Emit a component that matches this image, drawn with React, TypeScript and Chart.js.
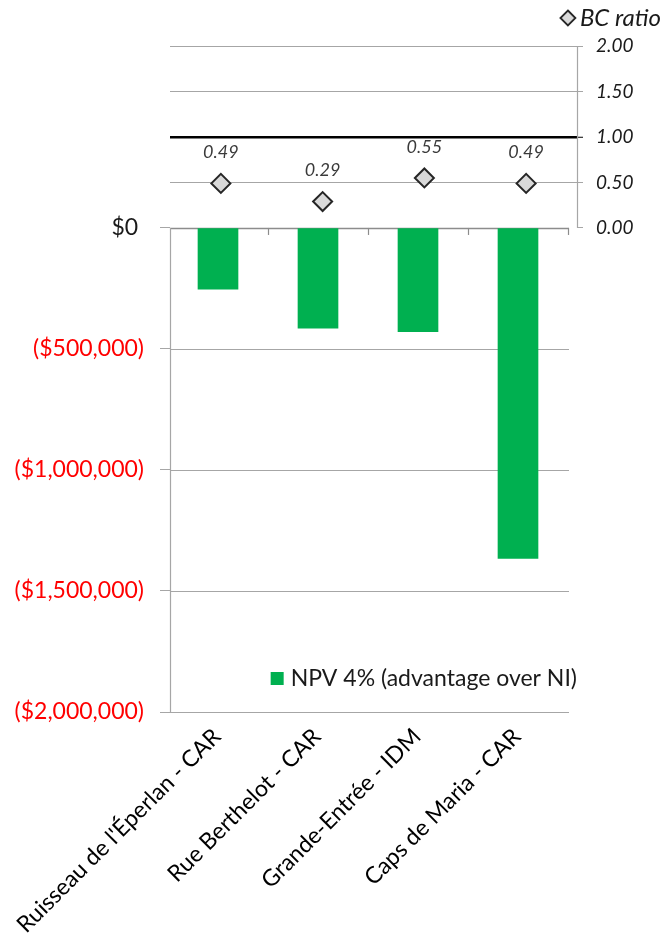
import React, { useEffect, useRef } from "react";
import { Chart, registerables } from "chart.js";

Chart.register(...registerables);

const categories = [
  "Ruisseau de l'Éperlan - CAR",
  "Rue Berthelot - CAR",
  "Grande-Entrée - IDM",
  "Caps de Maria - CAR",
];
const npv4 = [-253000, -414000, -429000, -1365000];
const bcRatio = [0.49, 0.29, 0.55, 0.49];
const npvTicks = [-2000000, -1500000, -1000000, -500000, 0];
const bcTicks = [0, 0.5, 1, 1.5, 2];

const NPV_LABEL = "NPV 4% (advantage over NI)";
const BC_LABEL = "BC ratio";

const W = 663;
const H = 945;
const FONT = "Lato, 'Open Sans', sans-serif";
const GREEN = "#00B050";
const GRID = "#A6A6A6";
const AXIS = "#8C8C8C";

const BC_MIN = -5.32;
const BC_MAX = 2;
const NPV_MIN = -2000000;
const NPV_MAX = (-NPV_MIN * BC_MAX) / -BC_MIN;

function fmtMoney(v: number): string {
  if (v === 0) return "$0 ";
  const s = Math.abs(v).toLocaleString("en-US");
  return v < 0 ? `($${s})` : `$${s} `;
}

const framePlugin = {
  id: "frame",
  beforeDatasetsDraw(chart: any) {
    const { ctx, chartArea } = chart;
    const x = chart.scales.x;
    const y = chart.scales.y;
    const y2 = chart.scales.y2;
    const xEnd = x.getPixelForValue(categories.length - 0.5) + 1;
    ctx.save();
    npvTicks.forEach((v) => {
      const py = Math.round(y.getPixelForValue(v)) + 0.5;
      ctx.beginPath();
      ctx.strokeStyle = v === 0 ? AXIS : GRID;
      ctx.lineWidth = v === 0 ? 1.5 : 1;
      ctx.moveTo(chartArea.left, py);
      ctx.lineTo(xEnd, py);
      ctx.stroke();
    });
    ctx.beginPath();
    ctx.strokeStyle = GRID;
    ctx.lineWidth = 1.2;
    const lx = Math.round(chartArea.left) + 0.5;
    ctx.moveTo(lx, y.getPixelForValue(0));
    ctx.lineTo(lx, y.getPixelForValue(NPV_MIN));
    ctx.stroke();
    ctx.beginPath();
    const rx = Math.round(chartArea.right) + 0.5;
    ctx.moveTo(rx, y2.getPixelForValue(BC_MAX));
    ctx.lineTo(rx, y2.getPixelForValue(0));
    ctx.stroke();
    const zy = y.getPixelForValue(0);
    ctx.strokeStyle = AXIS;
    ctx.lineWidth = 1.2;
    for (let i = 1; i <= categories.length; i++) {
      const px = Math.round(x.getPixelForValue(i - 0.5)) + 0.5;
      ctx.beginPath();
      ctx.moveTo(px, zy);
      ctx.lineTo(px, zy + 7);
      ctx.stroke();
    }
    ctx.restore();
  },
  afterDatasetsDraw(chart: any) {
    const { ctx, chartArea } = chart;
    const meta = chart.getDatasetMeta(1);
    ctx.save();
    ctx.font = `italic 18px ${FONT}`;
    ctx.fillStyle = "#3A3A3A";
    ctx.textAlign = "center";
    ctx.textBaseline = "middle";
    meta.data.forEach((pt: any, i: number) => {
      ctx.fillText(bcRatio[i].toFixed(2), pt.x, pt.y - 31);
    });

    ctx.font = `23px ${FONT}`;
    ctx.fillStyle = "#1A1A1A";
    ctx.textAlign = "left";
    const tw = ctx.measureText(NPV_LABEL).width;
    const tx = chartArea.right - tw;
    const ty = chartArea.bottom - 33;
    ctx.fillText(NPV_LABEL, tx, ty);
    ctx.fillStyle = GREEN;
    ctx.fillRect(tx - 20, ty - 7, 13, 13);

    ctx.font = `italic 24px ${FONT}`;
    ctx.fillStyle = "#1A1A1A";
    const bw = ctx.measureText(BC_LABEL).width;
    const bx = chart.width - 2 - bw;
    const by = 18;
    ctx.fillText(BC_LABEL, bx, by);
    const dx = bx - 12;
    const r = 7.5;
    ctx.beginPath();
    ctx.moveTo(dx, by - r);
    ctx.lineTo(dx + r, by);
    ctx.lineTo(dx, by + r);
    ctx.lineTo(dx - r, by);
    ctx.closePath();
    ctx.fillStyle = "#D9D9D9";
    ctx.fill();
    ctx.strokeStyle = "#262626";
    ctx.lineWidth = 1.8;
    ctx.stroke();
    ctx.restore();
  },
};

export default function App() {
  const ref = useRef<HTMLCanvasElement | null>(null);

  useEffect(() => {
    if (!ref.current) return;
    const chart = new Chart(ref.current, {
      type: "bar",
      data: {
        labels: categories,
        datasets: [
          {
            type: "bar",
            label: NPV_LABEL,
            data: npv4.map((v, i) => ({ x: i, y: v })),
            backgroundColor: GREEN,
            borderWidth: 0,
            barThickness: 40,
            grouped: false,
            xAxisID: "x",
            yAxisID: "y",
            order: 2,
          } as any,
          {
            type: "line",
            label: BC_LABEL,
            data: bcRatio,
            showLine: false,
            pointStyle: "rectRot",
            pointRadius: 9.5,
            pointBackgroundColor: "#D9D9D9",
            pointBorderColor: "#262626",
            pointBorderWidth: 2,
            xAxisID: "x2",
            yAxisID: "y2",
            order: 1,
          } as any,
        ],
      },
      options: {
        animation: false,
        responsive: false,
        maintainAspectRatio: false,
        layout: { padding: { top: 46, left: 0, right: 0, bottom: 0 } },
        plugins: {
          legend: { display: false },
          tooltip: { enabled: false },
        },
        scales: {
          x: {
            type: "linear",
            position: "bottom",
            offset: false,
            min: -0.48,
            max: -0.48 + 4.07,
            afterBuildTicks: (s: any) => {
              s.ticks = categories.map((_, i) => ({ value: i }));
            },
            afterFit: (s: any) => {
              s.height = H - 712;
              s.paddingLeft = 0;
              s.paddingRight = 0;
            },
            grid: { display: false, drawTicks: false, offset: false },
            border: { display: false },
            ticks: {
              autoSkip: false,
              maxRotation: 45,
              minRotation: 45,
              padding: 11,
              labelOffset: -1,
              color: "#000000",
              font: { family: FONT, size: 23 },
              callback: (v: any) => categories[v as number] ?? "",
            },
          },
          x2: {
            type: "category",
            labels: categories,
            offset: true,
            display: false,
          },
          y: {
            type: "linear",
            position: "left",
            min: NPV_MIN,
            max: NPV_MAX,
            afterBuildTicks: (s: any) => {
              s.ticks = npvTicks.map((v) => ({ value: v }));
            },
            afterFit: (s: any) => {
              s.width = 170;
            },
            grid: {
              drawOnChartArea: false,
              drawTicks: true,
              tickLength: 10,
              color: GRID,
            },
            border: { display: false },
            ticks: {
              padding: 16,
              color: (c: any) => (c.tick && c.tick.value === 0 ? "#1A1A1A" : "#FF0000"),
              font: { family: FONT, size: 23 },
              callback: (v: any) => fmtMoney(v as number),
            },
          },
          y2: {
            type: "linear",
            position: "right",
            min: BC_MIN,
            max: BC_MAX,
            afterBuildTicks: (s: any) => {
              s.ticks = bcTicks.map((v) => ({ value: v }));
            },
            afterFit: (s: any) => {
              s.width = W - 577;
            },
            grid: {
              drawOnChartArea: true,
              drawTicks: true,
              tickLength: 6,
              color: (c: any) =>
                c.tick && c.tick.value === 1 ? "#000000" : c.tick && c.tick.value === 0 ? "rgba(0,0,0,0)" : GRID,
              lineWidth: (c: any) => (c.tick && c.tick.value === 1 ? 2.5 : 1),
              tickColor: (c: any) => (c.tick && c.tick.value === 1 ? "#000000" : GRID),
              tickWidth: 1,
            },
            border: { display: false },
            ticks: {
              padding: 13,
              color: "#1A1A1A",
              font: { family: FONT, size: 19, style: "italic" },
              callback: (v: any) => (v as number).toFixed(2),
            },
          },
        },
      } as any,
      plugins: [framePlugin],
    });
    return () => chart.destroy();
  }, []);

  return (
    <div style={{ position: "absolute", left: 0, top: 0, width: W, height: H, background: "#fff" }}>
      <canvas ref={ref} width={W} height={H} style={{ width: W, height: H, display: "block" }} />
    </div>
  );
}
